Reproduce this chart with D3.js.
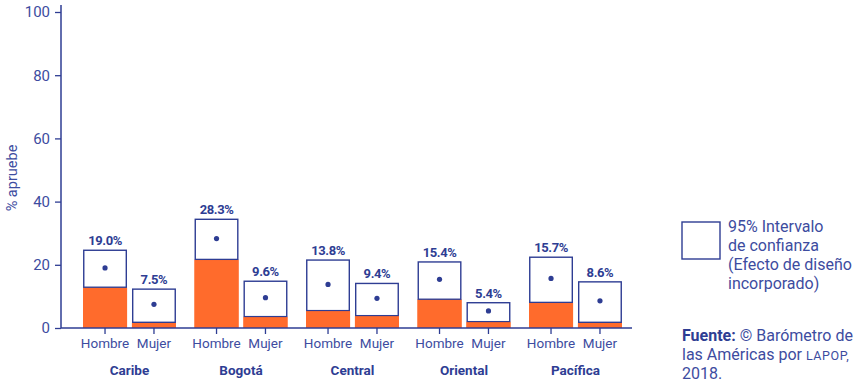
<!DOCTYPE html>
<html><head><meta charset="utf-8">
<script src="https://cdn.jsdelivr.net/npm/d3@7"></script>
<style>
body{margin:0;background:#fff;}
text{font-family:Roboto,"Noto Sans",sans-serif;}
</style></head>
<body><svg id="c" width="856" height="386"></svg>
<script>
const regions = ["Caribe","Bogotá","Central","Oriental","Pacífica"];
const genders = ["Hombre","Mujer"];
// point estimates (%), per region: [Hombre, Mujer]
const estHombre = [19.0, 28.3, 13.8, 15.4, 15.7];
const estMujer  = [7.5, 9.6, 9.4, 5.4, 8.6];
// 95% CI lower / upper bounds
const lowHombre = [12.9, 21.7, 5.5, 9.1, 8.1];
const upHombre  = [24.6, 34.4, 21.5, 20.9, 22.4];
const lowMujer  = [1.8, 3.6, 3.9, 2.0, 1.8];
const upMujer   = [12.3, 14.8, 14.1, 8.0, 14.6];
const yTicks = [0,20,40,60,80,100];

const data = [];
regions.forEach((r,i)=>{
  data.push({region:r, gender:"Hombre", est:estHombre[i], lo:lowHombre[i], hi:upHombre[i]});
  data.push({region:r, gender:"Mujer", est:estMujer[i], lo:lowMujer[i], hi:upMujer[i]});
});

const blue="#2e3d93", txt="#3d4ca0", orange="#ff6b2c";
const svg=d3.select("#c");
const y=d3.scaleLinear().domain([0,100]).range([328,12]);
const x0=d3.scaleBand().domain(regions).range([73.75,631.25]).paddingInner(0.166).paddingOuter(0.083);
const x1=d3.scaleBand().domain(genders).range([0,x0.bandwidth()]).paddingInner(0.1).paddingOuter(0);

// y axis
const yAxis=svg.append("g").attr("transform","translate(61,0)")
  .call(d3.axisLeft(y).tickValues(yTicks).tickSize(6).tickPadding(5));
yAxis.select(".domain").remove();
yAxis.selectAll("line").attr("stroke",blue).attr("stroke-width",1.3);
yAxis.selectAll("text").attr("fill",txt).style("font-size","15px").style("font-family","Roboto");
svg.append("line").attr("x1",61).attr("x2",61).attr("y1",5).attr("y2",y(0)).attr("stroke",blue).attr("stroke-width",1.5);

svg.append("text").attr("transform","translate(17,"+178+") rotate(-90)")
  .attr("text-anchor","middle").attr("fill",txt).style("font-size","14.5px").text("% apruebe");

// bars
const g=svg.append("g");
const bx=d=>x0(d.region)+x1(d.gender);
g.selectAll("rect.or").data(data).join("rect").attr("class","or")
  .attr("x",bx).attr("width",x1.bandwidth())
  .attr("y",d=>y(d.lo)).attr("height",d=>y(0)-y(d.lo)).attr("fill",orange);
g.selectAll("rect.ci").data(data).join("rect").attr("class","ci")
  .attr("x",d=>bx(d)+0.75).attr("width",x1.bandwidth()-1.5)
  .attr("y",d=>y(d.hi)).attr("height",d=>y(d.lo)-y(d.hi))
  .attr("fill","#fff").attr("stroke",blue).attr("stroke-width",1.4);
g.selectAll("rect.or2").data(data).join("rect").attr("class","or2")
  .attr("x",bx).attr("width",x1.bandwidth())
  .attr("y",d=>y(d.lo)+0.7).attr("height",d=>Math.max(0,y(0)-y(d.lo)-0.7)).attr("fill",orange);
g.selectAll("circle").data(data).join("circle")
  .attr("cx",d=>bx(d)+x1.bandwidth()/2).attr("cy",d=>y(d.est)).attr("r",2.6).attr("fill",blue);
g.selectAll("text.val").data(data).join("text").attr("class","val")
  .attr("x",d=>bx(d)+x1.bandwidth()/2).attr("y",d=>y(d.hi)-5)
  .attr("text-anchor","middle").attr("fill",blue)
  .style("font-size","13px").style("font-weight","bold").style("letter-spacing","-0.4px")
  .text(d=>d.est.toFixed(1)+"%");

// x axis
svg.append("line").attr("x1",61).attr("x2",632).attr("y1",y(0)).attr("y2",y(0)).attr("stroke",blue).attr("stroke-width",1.5);
data.forEach(d=>{
  const cx=bx(d)+x1.bandwidth()/2;
  svg.append("line").attr("x1",cx).attr("x2",cx).attr("y1",y(0)).attr("y2",y(0)+6).attr("stroke",blue).attr("stroke-width",1.3);
});
svg.selectAll("text.gl").data(data).join("text").attr("class","gl")
  .attr("x",d=>bx(d)+x1.bandwidth()/2).attr("y",348).attr("text-anchor","middle")
  .attr("fill",txt).style("font-size","13.5px").text(d=>d.gender);
svg.selectAll("text.rl").data(regions).join("text").attr("class","rl")
  .attr("x",d=>x0(d)+x0.bandwidth()/2).attr("y",375).attr("text-anchor","middle")
  .attr("fill",blue).style("font-size","13.5px").style("font-weight","bold").text(d=>d);

// legend
svg.append("rect").attr("x",682).attr("y",222).attr("width",38).attr("height",37)
  .attr("fill","#fff").attr("stroke",blue).attr("stroke-width",1.4);
const legLines=["95% Intervalo","de confianza","(Efecto de diseño","incorporado)"];
svg.selectAll("text.leg").data(legLines).join("text").attr("class","leg")
  .attr("x",728).attr("y",(d,i)=>232+i*19).attr("fill",txt).style("font-size","16px").text(d=>d);

// source
const src=svg.append("text").attr("fill",txt).style("font-size","16px");
const l1=src.append("tspan").attr("x",682).attr("y",341);
l1.append("tspan").style("font-weight","bold").attr("fill",blue).text("Fuente:");
l1.append("tspan").text(" © Barómetro de");
const l2=src.append("tspan").attr("x",682).attr("y",360);
l2.append("tspan").text("las Américas por ");
l2.append("tspan").style("font-size","12.5px").style("letter-spacing","0.6px").text("LAPOP,");
src.append("tspan").attr("x",682).attr("y",379).text("2018.");
</script></body></html>
